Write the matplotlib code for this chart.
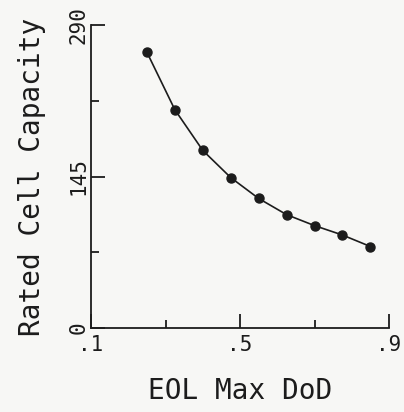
import matplotlib
matplotlib.use("Agg")
import matplotlib.pyplot as plt
from matplotlib.ticker import FixedLocator, FixedFormatter

eol_max_dod = [0.25, 0.325, 0.40, 0.475, 0.55, 0.625, 0.70, 0.775, 0.85]
rated_capacity = [264, 209, 170, 144, 124, 108.5, 98, 89, 78]

x_major = [0.1, 0.5, 0.9]
x_major_labels = [".1", ".5", ".9"]
x_minor = [0.3, 0.7]
y_major = [0, 145, 290]
y_major_labels = ["0", "145", "290"]
y_minor = [72.5, 217.5]

ink = "#1c1c1c"
bg = "#f7f7f5"
font = "DejaVu Sans Mono"

fig = plt.figure(figsize=(4.04, 4.12), dpi=100, facecolor=bg)
ax = fig.add_axes([91/404, 1-328/412, (389-91)/404, (328-25)/412], facecolor=bg)

ax.plot(eol_max_dod, rated_capacity, color=ink, lw=1.2, marker="o", ms=6.5,
        mfc=ink, mec=ink, clip_on=False)

ax.set_xlim(0.1, 0.9)
ax.set_ylim(0, 290)

for s in ["top", "right"]:
    ax.spines[s].set_visible(False)
for s in ["left", "bottom"]:
    ax.spines[s].set_color(ink)
    ax.spines[s].set_linewidth(1.3)

ax.xaxis.set_major_locator(FixedLocator(x_major))
ax.xaxis.set_major_formatter(FixedFormatter(x_major_labels))
ax.xaxis.set_minor_locator(FixedLocator(x_minor))
ax.yaxis.set_major_locator(FixedLocator(y_major))
ax.yaxis.set_major_formatter(FixedFormatter(y_major_labels))
ax.yaxis.set_minor_locator(FixedLocator(y_minor))

ax.tick_params(axis="both", which="major", direction="in", length=10, width=1.3,
               color=ink, labelcolor=ink)
ax.tick_params(axis="both", which="minor", direction="in", length=6, width=1.3,
               color=ink)
ax.tick_params(axis="x", which="major", labelsize=15, pad=5)
ax.tick_params(axis="y", which="major", labelsize=15, pad=2)
for lab in ax.get_xticklabels():
    lab.set_fontfamily(font)
for lab in ax.get_yticklabels():
    lab.set_fontfamily(font)
    lab.set_rotation(90)
    lab.set_va("center")

ax.set_xlabel("EOL Max DoD", fontsize=20, family=font, color=ink, labelpad=16)
ax.set_ylabel("Rated Cell Capacity", fontsize=20, family=font, color=ink, labelpad=16)

fig.savefig("out.png", dpi=100, facecolor=bg)
